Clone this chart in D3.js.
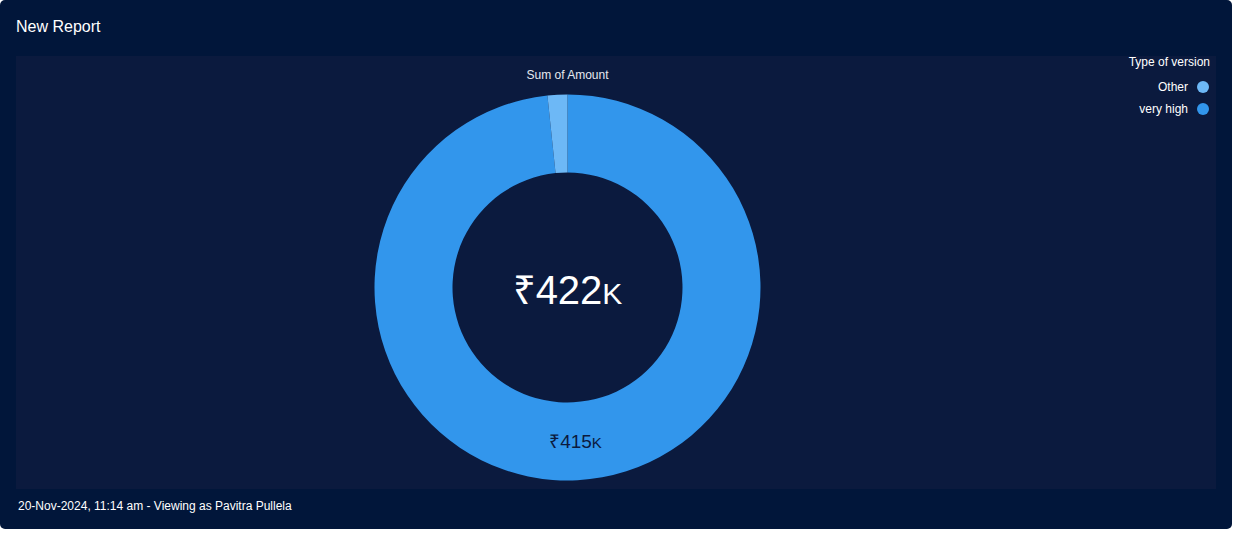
<!DOCTYPE html>
<html><head><meta charset="utf-8">
<script src="https://cdn.jsdelivr.net/npm/d3@7"></script>
<style>
html,body{margin:0;padding:0;background:#ffffff;}
svg{display:block;font-family:"Liberation Sans",Arial,sans-serif;}
</style></head>
<body>
<svg id="chart" width="1233" height="539"></svg>
<script>
const categories = ["very high", "Other"];
const values = [415, 7];            // thousands of ₹
const legendOrder = ["Other", "very high"];
const colors = {"Other": "#6db8f6", "very high": "#3296ec"};
const title = "New Report";
const measureLabel = "Sum of Amount";
const legendTitle = "Type of version";
const footer = "20-Nov-2024, 11:14 am - Viewing as Pavitra Pullela";

const svg = d3.select("#chart");
svg.append("rect").attr("x",0).attr("y",0).attr("width",1232).attr("height",529)
  .attr("rx",5).attr("fill","#01163a");
svg.append("rect").attr("x",16).attr("y",56).attr("width",1200).attr("height",433)
  .attr("fill","#0b1a3e");

svg.append("text").attr("x",16).attr("y",32).attr("fill","#ffffff")
  .attr("font-size",16).text(title);
svg.append("text").attr("x",18).attr("y",510).attr("fill","#ffffff")
  .attr("font-size",12).text(footer);

const cx = 567.5, cy = 287.5, outerR = 193, innerR = 115;
const data = categories.map((c,i)=>({cat:c, value:values[i]}));
const total = d3.sum(values);

svg.append("text").attr("x",cx).attr("y",79).attr("text-anchor","middle")
  .attr("fill","#e6e9ef").attr("font-size",12).text(measureLabel);

const pie = d3.pie().value(d=>d.value).sort(null);
const arc = d3.arc().innerRadius(innerR).outerRadius(outerR);
const g = svg.append("g").attr("transform",`translate(${cx},${cy})`);
const arcs = pie(data);
g.selectAll("path").data(arcs).join("path")
  .attr("d",arc).attr("fill",d=>colors[d.data.cat]);

const fmt = v => "₹" + Math.round(v);
g.selectAll("text.lbl").data(arcs.filter(d=>d.endAngle-d.startAngle>0.5)).join("text")
  .attr("class","lbl")
  .attr("transform",d=>`translate(${arc.centroid(d)})`)
  .attr("text-anchor","middle").attr("dy","0.35em")
  .attr("fill","#0b1a3e").attr("font-size",19)
  .each(function(d){
    const t=d3.select(this);
    t.append("tspan").text(fmt(d.data.value));
    t.append("tspan").attr("font-size",15).text("K");
  });

const ct = g.append("text").attr("text-anchor","middle").attr("y",16)
  .attr("fill","#ffffff").attr("font-size",40);
ct.append("tspan").text(fmt(total));
ct.append("tspan").attr("font-size",30).text("K");

svg.append("text").attr("x",1210).attr("y",66).attr("text-anchor","end")
  .attr("fill","#ffffff").attr("font-size",12).text(legendTitle);
const lg = svg.selectAll("g.leg").data(legendOrder).join("g")
  .attr("class","leg").attr("transform",(d,i)=>`translate(0,${87+i*22})`);
lg.append("circle").attr("cx",1203).attr("cy",0).attr("r",6).attr("fill",d=>colors[d]);
lg.append("text").attr("x",1188).attr("y",4).attr("text-anchor","end")
  .attr("fill","#ffffff").attr("font-size",12).text(d=>d);
</script>
</body></html>
